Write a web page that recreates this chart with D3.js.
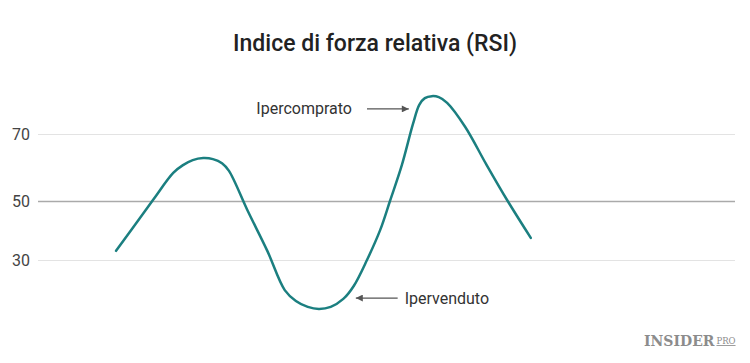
<!DOCTYPE html>
<html>
<head>
<meta charset="utf-8">
<script src="https://cdn.jsdelivr.net/npm/d3@7"></script>
<style>
  body { margin: 0; background: #fff; }
  text { font-family: Roboto, "Noto Sans", sans-serif; }
</style>
</head>
<body>
<script>
// periodo (asse x, unità arbitrarie) e valori RSI
let periods = [11.2, 13.9, 16.6, 19.4, 20.8, 22.2, 23.7, 25.1, 26.4, 27.4, 30.1, 32.9, 35.4, 37.0, 38.7, 40.3, 42.0, 43.8, 45.3,
    47.2, 49.1, 50.5, 52.2, 53.8, 54.7, 55.5, 56.5, 57.5, 58.7, 61.3, 64.3, 67.3, 70.7];
let rsi = [33.1, 41.9, 50.6, 58.4, 60.7, 62.2, 62.8, 62.5, 61.3, 59.0, 46.6, 33.1, 19.8, 16.1, 14.1, 13.4, 14.1, 16.8, 21.2,
    30.0, 40.2, 50.0, 60.7, 73.0, 78.7, 80.7, 81.3, 81.0, 79.3, 72.1, 61.0, 50.3, 37.5];
let yTicks = [30, 50, 70];
let notes = [
    { text: "Ipercomprato", x0: 47.2, x1: 53.2, y: 77.5, side: "left" },
    { text: "Ipervenduto", x0: 51.6, x1: 45.6, y: 17.1, side: "right" }
];

let width = 750,
    height = 363;

let svg = d3.select("body").append("svg")
    .attr("width", width).attr("height", height);

let xScale = d3.scaleLinear().domain([0, 100]).range([38, 735]);
// la griglia originale non è equidistante
let yScale = d3.scaleLinear().domain([30, 50, 70]).range([260, 201, 134]);

svg.append("defs").append("marker")
    .attr("id", "arrow")
    .attr("viewBox", "0 0 10 10")
    .attr("refX", 10).attr("refY", 5)
    .attr("markerWidth", 10).attr("markerHeight", 7)
    .attr("markerUnits", "userSpaceOnUse")
    .attr("orient", "auto")
    .append("path").attr("d", "M0,0L10,5L0,10Z").attr("fill", "#555");

svg.append("text")
    .attr("x", width / 2).attr("y", 51)
    .attr("text-anchor", "middle")
    .attr("font-size", 23).attr("font-weight", 500)
    .attr("fill", "#222")
    .text("Indice di forza relativa (RSI)");

let yAxis = d3.axisLeft(yScale)
    .tickValues(yTicks)
    .tickSize(-(735 - 38))
    .tickPadding(8);

let gy = svg.append("g").attr("transform", "translate(38,0)").call(yAxis);
gy.select(".domain").remove();
gy.selectAll(".tick line")
    .attr("stroke", (d) => d == 50 ? "#aaa" : "#e3e3e3")
    .attr("stroke-width", (d) => d == 50 ? 1.5 : 1);
gy.selectAll(".tick text")
    .attr("font-size", 16).attr("fill", "#444")
    .attr("font-family", "Roboto, sans-serif");

let line = d3.line()
    .x((d, i) => xScale(periods[i]))
    .y((d) => yScale(d))
    .curve(d3.curveCatmullRom.alpha(0.5));

svg.append("path")
    .datum(rsi)
    .attr("d", line)
    .attr("fill", "none")
    .attr("stroke", "#1b7f80")
    .attr("stroke-width", 2.5)
    .attr("stroke-linecap", "round");

let note = svg.selectAll(".note").data(notes).enter().append("g");
note.append("line")
    .attr("x1", (d) => xScale(d.x0)).attr("x2", (d) => xScale(d.x1))
    .attr("y1", (d) => yScale(d.y)).attr("y2", (d) => yScale(d.y))
    .attr("stroke", "#555").attr("stroke-width", 1.2)
    .attr("marker-end", "url(#arrow)");
note.append("text")
    .attr("x", (d) => d.side == "left" ? xScale(d.x0) - 15 : xScale(d.x0) + 7)
    .attr("y", (d) => yScale(d.y))
    .attr("dy", "0.35em")
    .attr("text-anchor", (d) => d.side == "left" ? "end" : "start")
    .attr("font-size", 16).attr("fill", "#333")
    .text((d) => d.text);

let logo = svg.append("text")
    .attr("x", 644).attr("y", 346)
    .attr("fill", "#8c8c8c")
    .style("font-family", "'DejaVu Serif', serif");
logo.append("tspan").attr("font-size", 14).attr("font-weight", "bold").text("INSIDER");
logo.append("tspan").attr("font-size", 8.5).attr("dx", 2).attr("dy", -2)
    .attr("text-decoration", "underline").text("PRO");
</script>
</body>
</html>
